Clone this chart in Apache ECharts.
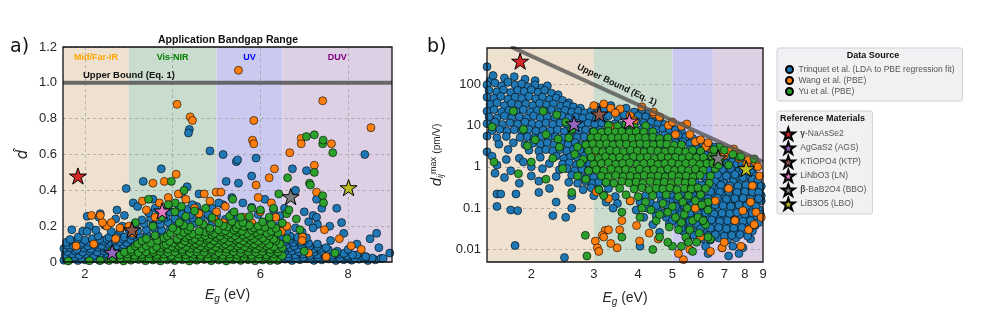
<!DOCTYPE html>
<html><head><meta charset="utf-8">
<script src="https://cdn.jsdelivr.net/npm/echarts@6/dist/echarts.min.js"></script>
<style>html,body{margin:0;padding:0;background:#fff}#c{width:987px;height:320px}</style>
</head><body><div id="c"></div>
<script>
// ---------------- DATA ----------------
const sourceNames = ['Trinquet et al. (LDA to PBE regression fit)', 'Wang et al. (PBE)', 'Yu et al. (PBE)'];
const refNames = ['γ-NaAsSe2', 'AgGaS2 (AGS)', 'KTiOPO4 (KTP)', 'LiNbO3 (LN)', 'β-BaB2O4 (BBO)', 'LiB3O5 (LBO)'];
const regionNames = ['Mid/Far-IR', 'Vis-NIR', 'UV', 'DUV'];
const regionEdges = [1.5, 3, 5, 6.5, 9];
const xTicksA = [2, 4, 6, 8];
const xTicksB = [2, 3, 4, 5, 6, 7, 8, 9];
const yTicksB = [0.01, 0.1, 1, 10, 100];
const boundA = [[1.5, 1], [9, 1]];
const boundB = [[1.75, 800], [9, 1.32]];
// reference materials (Eg, d) for each panel
const refA = [[1.84, 0.48], [2.62, 0.055], [3.07, 0.18], [3.76, 0.285], [6.69, 0.365], [8.01, 0.415]];
const refB = [[1.86, 356], [2.64, 10.9], [3.11, 18.9], [3.78, 12.8], [6.73, 1.65], [8.07, 0.9]];

// panel a: flat [Eg, d, Eg, d, ...]
const blueA = [
1.52,.01,1.68,.015,1.84,.008,2.0,.012,2.16,.018,2.33,.009,2.5,.014,6.4,.01,6.56,.016,6.72,.008,6.9,.013,7.05,.018,7.22,.009,7.4,.012,7.55,.017,7.72,.008,7.9,.013,8.08,.01,8.25,.016,8.45,.008,8.62,.012,
1.6,.025,1.76,.028,1.92,.022,2.08,.027,2.25,.024,2.42,.026,6.48,.025,6.64,.028,6.81,.022,6.98,.026,7.14,.024,7.31,.027,7.48,.023,7.64,.026,7.81,.024,7.98,.027,8.15,.022,8.35,.025,8.55,.022,8.75,.02,
1.55,.04,1.71,.045,1.87,.038,2.03,.043,2.2,.036,2.36,.047,2.52,.04,2.7,.035,6.3,.042,6.46,.037,6.63,.046,6.8,.039,6.97,.044,7.13,.036,7.3,.041,7.47,.047,7.64,.038,7.8,.043,7.98,.035,8.2,.04,8.4,.03,
1.6,.058,1.78,.062,1.95,.055,2.11,.06,2.28,.056,2.44,.062,2.6,.057,2.8,.06,6.38,.06,6.55,.056,6.72,.062,6.88,.057,7.05,.06,7.22,.055,7.39,.061,7.56,.057,7.72,.05,7.9,.048,8.1,.04,
1.52,.075,1.66,.08,1.82,.07,1.98,.078,2.14,.072,2.3,.082,2.47,.074,2.64,.079,2.8,.07,2.96,.077,6.35,.076,6.52,.07,6.68,.08,6.85,.073,7.02,.078,7.2,.071,7.36,.075,7.55,.068,7.75,.06,
1.6,.094,1.74,.09,1.9,.096,2.06,.09,2.22,.094,2.38,.092,2.55,.097,2.72,.09,2.88,.095,3.05,.092,6.28,.094,6.44,.09,6.6,.096,6.77,.09,6.94,.093,7.12,.088,7.3,.085,7.5,.08,
1.58,.11,1.75,.115,1.92,.105,2.08,.112,2.25,.108,2.42,.116,2.6,.106,2.78,.113,2.95,.109,3.12,.117,3.3,.11,6.2,.112,6.4,.106,6.58,.115,6.75,.108,6.92,.11,7.1,.104,7.3,.1,
1.66,.125,1.84,.128,2.0,.122,2.17,.13,2.34,.125,2.5,.128,2.68,.122,2.86,.13,3.04,.126,3.2,.13,6.15,.128,6.32,.125,6.5,.13,6.66,.124,6.84,.126,7.0,.12,
1.85,.14,2.3,.145,2.55,.138,2.72,.146,2.9,.14,3.08,.148,3.25,.142,3.42,.15,3.6,.144,3.78,.152,5.9,.146,6.1,.14,6.3,.148,6.5,.142,6.68,.145,6.85,.138,7.05,.135,
1.7,.18,1.95,.172,2.25,.178,2.6,.17,2.8,.176,3.0,.182,3.2,.174,3.4,.18,3.58,.186,3.75,.178,3.95,.184,4.15,.19,4.35,.182,5.6,.18,5.8,.176,6.0,.172,6.2,.178,6.6,.17,6.95,.168,
2.1,.2,2.45,.205,2.85,.2,3.15,.208,3.35,.214,3.55,.206,3.72,.212,3.9,.22,4.1,.214,4.3,.222,4.5,.215,4.7,.21,4.9,.218,5.1,.212,5.3,.205,5.5,.21,5.75,.202,6.05,.198,6.4,.2,6.8,.19,7.3,.21,
2.05,.255,2.7,.24,3.3,.235,3.5,.245,3.68,.238,3.85,.25,4.05,.242,4.25,.255,4.45,.246,4.65,.24,4.85,.25,5.2,.238,5.45,.245,5.7,.232,6.2,.24,7.1,.225,
2.35,.27,2.9,.26,3.45,.275,3.7,.265,3.95,.28,4.2,.27,4.4,.262,4.6,.275,4.8,.268,5.0,.26,5.35,.27,5.95,.265,6.45,.258,7.2,.26,
3.6,.3,3.9,.31,4.15,.305,4.35,.295,4.55,.31,4.9,.3,5.15,.32,5.8,.305,6.3,.29,7.4,.3,
2.94,.41,3.74,.52,3.33,.45,4.38,.74,4.36,.72,4.85,.62,5.15,.6,5.45,.56,5.48,.57,5.9,.58,5.22,.45,5.5,.44,5.8,.48,6.73,.52,7.05,.51,8.38,.6,7.28,.35,7.74,.3,7.28,.25,8.5,.13,8.95,.05,7.2,.19,7.58,.2,2.32,.25,2.73,.29,2.05,.17,4.33,.42,3.55,.35,4.6,.38,4.2,.38,5.6,.33,6.1,.35,5.35,.36,6.55,.3,7.9,.16,8.2,.1,8.7,.08,6.8,.4,3.1,.33,7.0,.28,7.6,.12,8.0,.07,8.4,.03,8.8,.02,5.05,.33,4.45,.32,3.2,.31,7.85,.22,8.65,.16
];
const orangeA = [
5.5,1.07,4.1,.88,4.4,.81,4.45,.79,5.85,.79,7.42,.9,8.52,.75,5.82,.68,5.85,.66,6.93,.69,6.93,.66,7.62,.66,6.67,.61,6.32,.52,7.23,.54,5.9,.43,3.55,.44,3.81,.45,4.08,.49,4.13,.38,4.72,.38,4.99,.39,5.1,.39,7.28,.39,
3.31,.34,3.7,.33,3.9,.36,4.3,.35,4.5,.3,4.85,.34,5.2,.31,5.0,.28,4.6,.27,3.4,.29,3.0,.2,2.8,.19,2.5,.2,2.15,.26,2.4,.22,3.6,.25,4.95,.24,5.15,.22,5.6,.25,5.8,.22,6.0,.28,6.2,.47,6.48,.17,6.96,.14,7.8,.13,8.07,.09,8.3,.07,6.95,.12,7.46,.18,6.35,.25,6.6,.2,3.1,.16,2.7,.13,2.2,.1,1.8,.09,2.9,.05,5.3,.19,5.5,.16,6.25,.33,7.5,.03,7.1,.05,6.0,.12,5.95,.36,2.35,.26,2.6,.22
];
const greenA = [
2.55,.008,2.72,.012,2.88,.006,3.05,.01,3.22,.014,3.38,.007,3.55,.011,3.72,.006,3.88,.012,4.05,.008,4.22,.013,4.38,.006,4.55,.01,4.72,.014,4.88,.007,5.05,.011,5.22,.006,5.38,.012,5.55,.009,5.72,.013,5.88,.007,6.05,.011,6.22,.008,6.38,.01,1.62,.006,2.1,.007,2.35,.009,
2.64,.025,2.8,.022,2.97,.027,3.13,.024,3.3,.028,3.46,.022,3.63,.026,3.8,.023,3.96,.028,4.13,.024,4.3,.022,4.46,.027,4.63,.025,4.8,.022,4.96,.028,5.13,.024,5.3,.026,5.46,.023,5.63,.027,5.8,.025,5.96,.022,6.13,.028,6.3,.024,
2.8,.04,2.97,.044,3.14,.037,3.3,.042,3.47,.046,3.64,.039,3.8,.043,3.97,.036,4.14,.045,4.3,.04,4.47,.043,4.64,.037,4.8,.046,4.97,.041,5.14,.038,5.3,.044,5.47,.04,5.64,.046,5.8,.038,5.97,.043,6.14,.039,6.3,.045,6.5,.035,
2.9,.055,3.06,.058,3.22,.052,3.39,.057,3.56,.054,3.72,.059,3.89,.053,4.05,.056,4.22,.058,4.39,.052,4.55,.057,4.72,.055,4.89,.059,5.05,.053,5.22,.056,5.39,.058,5.55,.052,5.72,.057,5.89,.054,6.05,.059,6.22,.053,6.4,.056,
3.05,.07,3.3,.075,3.55,.068,3.72,.077,3.9,.072,4.06,.079,4.22,.07,4.4,.076,4.56,.073,4.73,.078,4.9,.07,5.06,.076,5.23,.072,5.4,.079,5.56,.071,5.73,.077,5.9,.073,6.06,.078,6.22,.07,6.4,.074,2.6,.06,
3.15,.088,3.4,.09,3.63,.085,3.8,.092,3.98,.087,4.14,.091,4.31,.086,4.48,.093,4.64,.088,4.81,.09,4.98,.085,5.14,.092,5.31,.087,5.48,.09,5.64,.086,5.81,.092,5.98,.088,6.14,.09,6.31,.085,6.5,.08,
3.2,.1,3.5,.105,3.85,.098,4.02,.106,4.2,.1,4.37,.108,4.53,.102,4.7,.107,4.86,.099,5.03,.105,5.2,.1,5.36,.108,5.53,.101,5.7,.106,5.86,.1,6.03,.104,6.2,.098,6.45,.1,
3.3,.118,3.65,.12,3.93,.115,4.11,.122,4.28,.117,4.45,.121,4.61,.116,4.78,.123,4.94,.118,5.11,.12,5.28,.115,5.45,.122,5.61,.117,5.78,.121,5.95,.116,6.12,.12,6.35,.118,
3.4,.13,3.8,.135,4.1,.128,4.3,.136,4.5,.13,4.65,.138,4.82,.132,5.0,.137,5.16,.129,5.33,.135,5.5,.13,5.68,.136,5.85,.131,6.05,.134,6.3,.128,
3.6,.148,3.88,.145,4.18,.15,4.38,.146,4.58,.152,4.74,.147,4.9,.15,5.08,.145,5.25,.151,5.42,.147,5.6,.15,5.77,.146,5.95,.15,6.2,.147,
3.95,.16,4.25,.165,4.45,.158,4.75,.166,4.95,.16,5.12,.168,5.3,.161,5.5,.166,5.7,.159,5.9,.164,6.15,.16,6.4,.162,
4.1,.175,4.35,.178,4.6,.172,4.85,.176,5.05,.18,5.2,.174,5.4,.178,5.58,.172,5.8,.177,6.0,.175,6.25,.172,
4.0,.19,4.4,.195,4.85,.188,5.25,.196,5.45,.19,5.62,.198,5.85,.19,6.1,.194,6.35,.188,
4.25,.205,4.7,.21,5.15,.202,5.5,.208,5.75,.205,5.95,.2,6.25,.21,
4.15,.22,4.6,.225,5.05,.218,5.35,.226,5.6,.22,6.05,.224,6.5,.218,
3.75,.25,4.3,.255,4.9,.248,5.3,.256,5.55,.25,5.75,.254,6.2,.25,
4.05,.28,4.5,.285,5.4,.28,6.0,.29,
3.97,.45,4.26,.4,4.06,.33,7.05,.7,7.23,.71,7.42,.66,7.43,.68,7.65,.61,7.23,.5,7.12,.44,7.42,.37,6.6,.27,6.65,.29,6.82,.24,6.42,.38,5.37,.35,4.75,.3,3.55,.2,3.15,.22,6.6,.13,6.9,.18,7.0,.06,7.7,.05,3.9,.32,4.2,.31,5.8,.3,6.3,.3,3.45,.35,6.62,.47,7.14,.43,7.44,.33
];
// panel b: flat [Eg, d, ...]
const blueB = [
1.5,260,1.53,120,1.56,160,1.68,140,1.79,150,1.92,130,2.05,120,
1.5,95,1.58,105,1.65,90,1.72,110,1.8,95,1.88,100,1.96,85,2.05,95,2.14,80,2.22,90,
1.52,70,1.6,65,1.67,72,1.75,62,1.83,70,1.91,66,2.0,72,2.09,63,2.18,70,2.28,60,2.38,55,
1.5,48,1.57,45,1.64,50,1.72,43,1.8,48,1.88,45,1.97,50,2.06,44,2.15,48,2.25,42,2.35,46,2.45,40,2.55,35,
1.53,32,1.6,35,1.68,30,1.76,34,1.84,31,1.93,33,2.02,30,2.11,34,2.21,31,2.31,33,2.42,29,2.52,31,2.63,28,2.75,26,
1.5,22,1.57,24,1.65,21,1.73,23,1.81,22,1.9,24,1.99,21,2.08,23,2.18,22,2.28,24,2.38,21,2.49,23,2.6,21,2.71,22,2.83,20,2.95,22,
1.52,16,1.6,15,1.68,17,1.76,15,1.85,16,1.94,15,2.03,17,2.12,15,2.22,16,2.33,15,2.44,17,2.55,15,2.67,16,2.79,15,2.92,16,3.05,14,3.2,15,
1.5,11,1.58,12,1.66,10.5,1.74,11.5,1.83,10.8,1.92,12,2.01,11,2.1,10.5,2.2,11.5,2.3,10.6,2.41,11.4,2.52,10.8,2.64,11.6,2.76,10.5,2.89,11.3,3.02,10.6,3.16,11.2,3.3,10.4,3.45,11,3.6,10,
1.55,7.5,1.63,8,1.71,7.2,1.79,7.8,1.88,7.3,1.97,7.9,2.06,7.2,2.16,7.7,2.26,7.3,2.37,7.8,2.48,7.1,2.6,7.6,2.72,7.4,2.85,7.8,2.98,7.2,3.12,7.7,3.27,7.3,3.42,7.6,3.58,7.2,3.75,7.5,3.93,7,
1.5,5.5,1.6,5,1.7,5.4,1.86,5.1,1.95,5.3,2.04,5,2.14,5.4,2.24,5.1,2.34,5.3,2.45,5,2.57,5.4,2.69,5.1,2.82,5.3,2.95,5,3.1,5.2,3.5,5,3.9,5.3,4.1,5,4.3,5.2,
1.62,3.5,1.78,3.8,1.92,3.4,2.02,3.7,2.12,3.5,2.22,3.8,2.32,3.4,2.43,3.6,2.54,3.5,2.66,3.8,2.78,3.4,2.9,3.6,4.5,3.6,4.7,3.4,
1.5,2.3,1.72,2.6,1.97,2.5,2.1,2.4,2.2,2.6,2.3,2.4,2.41,2.6,2.52,2.4,2.63,2.6,2.75,2.5,2.88,2.4,5.0,2.5,5.3,2.6,
1.55,1.8,1.85,1.6,2.12,1.7,2.35,1.8,2.47,1.6,2.58,1.75,2.7,1.65,2.82,1.8,2.95,1.6,5.6,1.7,5.9,1.8,
1.6,1.1,1.9,1.3,2.25,1.2,2.45,1.15,2.56,1.25,2.68,1.1,2.8,1.2,2.92,1.15,6.2,1.2,6.5,1.3,6.9,1.1,
1.75,.8,2.15,.9,2.4,.85,2.52,.9,2.65,.8,2.78,.88,2.9,.82,3.02,.86,6.3,.85,6.7,.8,7.1,.9,7.5,.85,
1.68,.55,2.0,.6,2.35,.58,2.6,.62,2.75,.57,2.88,.6,3.0,.55,6.5,.6,6.9,.55,7.3,.62,7.7,.58,8.2,.6,
1.85,.4,2.1,.45,2.55,.42,2.7,.4,2.85,.44,2.98,.4,3.1,.43,3.25,.4,5.8,.42,6.2,.4,6.6,.45,7.0,.4,7.4,.44,7.8,.4,8.3,.42,
2.25,.3,2.8,.28,2.95,.31,3.1,.28,3.3,.3,5.5,.3,5.9,.28,6.3,.31,6.7,.29,7.1,.3,7.5,.28,7.9,.31,8.4,.29,8.8,.3,
1.6,.22,2.6,.2,3.0,.2,3.2,.21,3.45,.19,4.2,.2,4.6,.21,5.0,.19,5.3,.2,5.7,.21,6.1,.19,6.5,.2,6.9,.21,7.3,.19,7.7,.2,8.1,.21,8.6,.19,
2.35,.14,3.25,.14,3.5,.13,3.8,.15,4.05,.14,4.35,.13,4.65,.15,4.95,.14,5.25,.13,5.55,.15,5.85,.14,6.15,.13,6.5,.15,6.85,.14,7.2,.13,7.6,.15,8.0,.14,8.5,.13,8.9,.15,
1.75,.09,3.4,.1,3.95,.09,4.25,.1,4.55,.09,4.85,.1,5.15,.09,5.45,.1,5.75,.09,6.05,.1,6.4,.09,6.75,.1,7.1,.09,7.5,.1,7.9,.09,8.3,.1,8.8,.09,
2.5,.06,4.15,.06,4.5,.065,4.8,.06,5.1,.065,5.4,.06,5.7,.065,6.0,.06,6.35,.065,6.7,.06,7.05,.065,7.4,.06,7.8,.065,8.2,.06,8.6,.065,
4.4,.04,4.9,.042,5.2,.038,5.55,.042,5.9,.04,6.25,.038,6.6,.042,6.95,.04,7.3,.038,7.7,.042,8.1,.04,8.55,.038,
4.6,.026,5.35,.028,5.8,.026,6.15,.028,6.5,.026,6.85,.028,7.2,.026,7.6,.028,8.0,.026,8.4,.028,
1.8,.0125,5.5,.018,6.05,.018,6.4,.017,6.75,.019,7.15,.017,7.55,.019,8.3,.018,
4.05,.012,6.2,.012,6.9,.011,7.4,.012,7.9,.011,2.48,.0064,6.3,.008,7.2,.007,7.7,.008,
1.6,.11,1.83,.087,2.3,.066,1.64,.22,1.81,.22,2.1,.24,2.6,.1,1.7,1.5,2.0,1.0,1.58,.7,
3.3,3,3.7,2,4.0,1.3,4.4,.9,4.8,.7,5.2,1.1,3.5,.7,3.9,.5,4.6,.4,5.0,.3,5.6,.6,6.0,.9,3.2,1.8,3.6,4,4.2,3,4.8,2,5.5,1.3,3.4,1.2,4.1,.8,4.7,1.4,5.3,.5,6.1,.6,6.4,1.6,6.8,1.7,7.2,1.5,7.6,1.2,8.0,1.0,7.3,2.2,6.0,2.6,5.7,3.2,5.2,3.8,4.8,4.5,8.4,.8,8.7,.5,8.9,.2,7.8,.7,8.5,.3,
3.05,28,3.2,24,3.35,30,3.5,22,3.7,26,3.9,21,4.1,24,4.3,20,
3.3,17,3.5,16,3.65,18,3.85,15.5,4.0,17,4.2,16,4.4,15,4.6,14,
3.75,12,3.95,12.5,4.15,11.5,4.35,12,4.55,11,4.75,10.5,4.95,9.5,
4.1,8,4.3,8.5,4.5,7.8,4.7,8.2,4.9,7.5,5.1,7.8,5.3,7,
4.5,5.6,4.75,5.8,5.0,5.4,5.2,5.8,5.45,5.2,5.7,4.8,5.95,4.3,
5.1,3.8,5.35,4,5.6,3.6,5.85,3.5,6.1,3.6,6.35,3.3,6.6,3.0,
5.6,2.6,5.85,2.7,6.1,2.5,6.35,2.6,6.6,2.4,6.85,2.3,7.1,2.2,7.4,1.9,
6.2,1.9,6.45,1.7,6.7,1.9,6.95,1.7,7.2,1.8,7.45,1.6,7.7,1.5,7.95,1.3,
6.6,1.25,6.85,1.3,7.1,1.2,7.35,1.3,7.6,1.15,7.85,1.2,8.1,1.05,8.4,.95,
6.9,.85,7.3,.9,7.7,.8,7.9,.9,8.1,.78,8.35,.72,8.6,.6,
6.7,.65,7.1,.6,7.5,.65,7.9,.55,8.4,.5,8.7,.45,
5.7,.35,6.05,.36,6.45,.34,6.85,.36,7.25,.35,7.65,.34,8.05,.36,8.5,.35,8.9,.34,
5.6,.25,6.0,.24,6.4,.25,6.8,.245,7.2,.25,7.6,.24,8.0,.25,8.4,.245,8.75,.24,
4.8,.17,5.15,.17,5.5,.175,5.9,.17,6.3,.17,6.7,.175,7.1,.165,7.5,.17,7.9,.175,8.3,.165,8.75,.17,
4.5,.115,4.8,.12,5.1,.11,5.4,.115,5.7,.12,6.0,.115,6.3,.11,6.6,.12,6.95,.115,7.3,.11,7.7,.12,8.1,.115,8.6,.11,
4.7,.075,5.0,.078,5.3,.072,5.6,.076,5.9,.074,6.2,.078,6.55,.072,6.9,.076,7.25,.074,7.6,.078,8.0,.072,8.4,.076,8.85,.07,
5.0,.05,5.3,.052,5.6,.048,6.1,.05,6.45,.052,6.8,.048,7.15,.05,7.5,.052,7.9,.048,8.3,.05,8.75,.045,
5.3,.033,5.6,.034,6.0,.032,6.4,.033,6.75,.034,7.1,.032,7.45,.033,7.85,.034,8.25,.032,
5.75,.022,6.3,.022,6.6,.023,7.0,.021,7.35,.022,7.75,.023,8.15,.021
];
const orangeB = [
4.1,28,3.56,25,3.35,26,4.44,19,4.87,10,4.42,21,5.49,10.8,7.44,2.7,8.57,1.3,6.2,3,6.7,2,3.8,17,
3.23,.029,3.17,.022,3.03,.016,3.07,.011,3.49,.011,3.3,.17,3.09,.9,3.2,.02,3.96,.038,4.04,.016,4.56,.018,5.37,.0057,6.9,.011,7.9,.087,8.7,1.0,8.3,.14,
3.05,.25,3.15,1.4,3.0,2.1,3.25,4.5,3.4,9,3.9,13,5.1,6,5.8,4,6.5,2.5,7.0,1.9,7.7,1.6,8.1,1.2,8.8,.6,8.4,.35,8.6,.08,7.5,.05,6.0,.02,5.2,.008,4.3,.025,3.6,.05,3.8,.15,5.8,.1,6.6,.15,7.2,.3,
3.0,30,3.2,33,4.6,16,5.0,12,5.3,9.5,5.6,6,6.0,4.5,6.3,3.8,6.9,2.6,7.2,2.5,7.7,2.0,8.2,1.5,3.45,20,
3.3,.03,3.35,.014,3.1,.009,3.55,.03,5.6,.01,6.4,.009,7.0,.015,7.8,.012,8.2,.03,8.5,.04,8.9,.06
];
const greenB = [
3.3,10,3.5,9.5,3.7,10.5,3.9,9,4.2,9.8,
3.0,7,3.15,6.8,3.3,7.2,3.45,6.9,3.6,7.1,3.78,6.8,3.95,7.2,4.15,6.9,4.4,7,
2.95,5,3.08,5.2,3.22,4.9,3.37,5.1,3.52,5,3.68,5.2,3.85,4.9,4.02,5.1,4.2,5,4.4,5.2,4.6,4.8,4.85,5,
2.85,3.4,2.98,3.6,3.12,3.5,3.26,3.6,3.4,3.4,3.55,3.6,3.71,3.5,3.88,3.4,4.05,3.6,4.23,3.5,4.42,3.4,4.62,3.6,4.82,3.5,5.05,3.3,5.3,3.4,
2.9,2.4,3.04,2.5,3.18,2.3,3.33,2.5,3.48,2.4,3.64,2.3,3.81,2.5,3.98,2.4,4.16,2.3,4.35,2.5,4.55,2.4,4.76,2.3,4.98,2.5,5.2,2.4,5.45,2.3,5.7,2.5,6.0,2.4,
2.95,1.7,3.1,1.6,3.24,1.75,3.39,1.65,3.55,1.7,3.71,1.6,3.88,1.75,4.06,1.65,4.25,1.7,4.45,1.6,4.65,1.75,4.87,1.65,5.1,1.7,5.33,1.6,5.58,1.75,5.84,1.65,6.12,1.7,6.45,1.8,
3.0,1.15,3.15,1.2,3.3,1.25,3.46,1.15,3.62,1.2,3.79,1.25,3.97,1.15,4.15,1.2,4.35,1.25,4.55,1.15,4.76,1.2,4.98,1.25,5.21,1.15,5.45,1.2,5.7,1.25,5.97,1.15,6.25,1.2,
3.05,.85,3.2,.8,3.36,.88,3.52,.82,3.69,.86,3.86,.8,4.04,.88,4.23,.82,4.43,.86,4.63,.8,4.85,.88,5.07,.82,5.31,.86,5.55,.8,5.8,.88,6.1,.82,
3.15,.6,3.3,.57,3.46,.62,3.63,.58,3.8,.6,3.98,.57,4.16,.62,4.35,.58,4.56,.6,4.77,.57,4.99,.62,5.22,.58,5.46,.6,5.72,.57,5.98,.62,
3.25,.42,3.42,.4,3.6,.44,3.77,.41,3.95,.43,4.13,.4,4.33,.44,4.53,.41,4.74,.43,4.96,.4,5.19,.44,5.43,.41,5.68,.43,
3.1,.28,3.55,.3,3.9,.29,4.1,.31,4.3,.28,4.5,.3,4.7,.29,4.92,.31,5.15,.28,5.4,.3,5.65,.29,5.9,.31,
3.2,.2,3.7,.21,4.0,.19,4.4,.2,4.8,.21,5.2,.19,5.55,.2,6.0,.21,
4.2,.14,4.7,.13,5.35,.14,5.8,.15,6.3,.14,
3.6,.08,4.05,.06,4.5,.05,4.9,.035,5.3,.045,5.6,.03,5.95,.025,6.2,.04,6.4,.018,5.0,.012,4.6,.02,3.6,.02,2.84,.022,2.87,.007,6.3,.02,5.7,.009,4.4,.01,
1.55,9.2,1.78,22,1.57,1.3,1.84,.68,2.0,1.3,2.6,.24,2.36,18,2.16,22,2.38,4.7,1.95,3.2,
8.5,1.55,7.7,1.75,6.8,3,6.6,2.2,7.0,2.5,7.4,2.0,7.8,1.8,6.8,1.4,7.2,1.1,2.7,3,2.6,8,2.5,12,2.8,1.5,2.7,.6,
6.4,.6,6.6,.9,6.5,1.2,6.7,1.6,6.35,.4,6.55,2.6,6.2,.3,6.75,1.1,
2.2,6,2.4,3,2.55,5,2.65,2,2.3,1.6,2.45,.9,2.75,1.2,2.85,.5,2.9,.8,2.2,.5,2.05,4.5,1.9,8,
4.1,.1,4.35,.09,4.6,.07,4.85,.08,5.1,.06,5.4,.07,5.7,.05,5.9,.06,6.1,.05,5.5,.1,5.0,.11,6.05,.12,6.3,.09,5.2,.03,5.45,.02,5.55,.015,5.3,.012,4.85,.015,5.85,.015
];

// ---------------- STYLE ----------------
const FONT = 'Liberation Sans, Arial, sans-serif';
const srcColors = ['#1f77b4', '#ff7f0e', '#2ca02c'];
const refColors = ['#d62728', '#9467bd', '#8c564b', '#e377c2', '#7f7f7f', '#bcbd22'];
const regionFill = ['#eee1cf', '#c9dccd', '#cacaf0', '#ddd0e4'];
const regionLabelColor = ['#ffa500', '#008000', '#0000ff', '#800080'];
const STAR = 'path://M0,-10L2.245,-3.09L9.511,-3.09L3.633,1.18L5.878,8.09L0,3.82L-5.878,8.09L-3.633,1.18L-9.511,-3.09L-2.245,-3.09Z';
const GA = {left: 63, top: 47, width: 329, height: 215};
const GB = {left: 487, top: 48, width: 276, height: 214};

function pairs(a) { const r = []; for (let i = 0; i < a.length; i += 2) r.push([a[i], a[i + 1]]); return r; }

function regionArea(withLabels) {
  return regionNames.map((n, i) => [
    {name: withLabels ? n : '', xAxis: regionEdges[i], itemStyle: {color: regionFill[i]},
     label: {show: withLabels, position: 'insideTop', distance: 6, color: regionLabelColor[i], fontWeight: 'bold', fontSize: 9, fontFamily: FONT}},
    {xAxis: regionEdges[i + 1]}
  ]);
}

const series = [];
const dataA = [blueA, orangeA, greenA];
const dataB = [blueB, orangeB, greenB];
const ptStyle = i => ({color: srcColors[i], borderColor: '#000', borderWidth: 0.6, opacity: 1});
const starStyle = i => ({color: refColors[i], borderColor: '#000', borderWidth: 1, opacity: 1});
// panel a
series.push({type: 'line', xAxisIndex: 0, yAxisIndex: 0, data: [], silent: true,
  markArea: {silent: true, z: 1, data: regionArea(true)}});
dataA.forEach((d, i) => series.push({type: 'scatter', name: sourceNames[i], xAxisIndex: 0, yAxisIndex: 0, data: pairs(d),
  symbolSize: 8, z: 2, itemStyle: ptStyle(i)}));
series.push({type: 'line', xAxisIndex: 0, yAxisIndex: 0, data: boundA, symbol: 'none', z: 3, silent: true,
  lineStyle: {color: '#555', width: 4, opacity: 0.85}});
refA.forEach((p, i) => series.push({type: 'scatter', name: refNames[i], xAxisIndex: 0, yAxisIndex: 0, data: [p],
  symbol: STAR, symbolKeepAspect: true, symbolSize: 17, z: 4, itemStyle: starStyle(i)}));
// panel b
series.push({type: 'line', xAxisIndex: 1, yAxisIndex: 1, data: [], silent: true,
  markArea: {silent: true, z: 1, data: regionArea(false)}});
dataB.forEach((d, i) => series.push({type: 'scatter', name: sourceNames[i], xAxisIndex: 1, yAxisIndex: 1, data: pairs(d),
  symbolSize: 8, z: 2, itemStyle: ptStyle(i)}));
series.push({type: 'line', xAxisIndex: 1, yAxisIndex: 1, data: boundB, symbol: 'none', z: 3, silent: true,
  lineStyle: {color: '#555', width: 4, opacity: 0.8}});
refB.forEach((p, i) => series.push({type: 'scatter', name: refNames[i], xAxisIndex: 1, yAxisIndex: 1, data: [p],
  symbol: STAR, symbolKeepAspect: true, symbolSize: 17, z: 4, itemStyle: starStyle(i)}));

const tickLabel = {fontSize: 13, color: '#262626', fontFamily: FONT};
const splitDash = {show: true, lineStyle: {color: '#9a9a9a', type: [3, 3], width: 0.7}};
const egName = '{i|E}{s|g} (eV)';
const egRich = {i: {fontStyle: 'italic', fontSize: 14, fontFamily: FONT, color: '#262626'},
                s: {fontStyle: 'italic', fontSize: 10, fontFamily: FONT, color: '#262626', verticalAlign: 'bottom', padding: [8, 0, 0, 0]}};

const option = {
  animation: false,
  textStyle: {fontFamily: FONT},
  grid: [Object.assign({}, GA), Object.assign({}, GB)],
  xAxis: [
    {type: 'value', gridIndex: 0, min: 1.5, max: 9, z: 1.5,
     axisLine: {show: false}, axisTick: {show: false, customValues: xTicksA},
     axisLabel: Object.assign({customValues: xTicksA, margin: 6}, tickLabel),
     splitLine: splitDash,
     name: egName, nameLocation: 'middle', nameGap: 24,
     nameTextStyle: {fontSize: 14, color: '#262626', fontFamily: FONT, rich: egRich}},
    {type: 'log', gridIndex: 1, min: 1.5, max: 9, z: 1.5,
     axisLine: {show: false}, axisTick: {show: false, customValues: xTicksB},
     axisLabel: Object.assign({customValues: xTicksB, margin: 6, formatter: v => String(Math.round(v))}, tickLabel),
     splitLine: {show: false}, minorSplitLine: {show: false},
     name: egName, nameLocation: 'middle', nameGap: 27,
     nameTextStyle: {fontSize: 14, color: '#262626', fontFamily: FONT, rich: egRich}}
  ],
  yAxis: [
    {type: 'value', gridIndex: 0, min: 0, max: 1.2, interval: 0.2, z: 1.5,
     axisLine: {show: false}, axisTick: {show: false},
     axisLabel: Object.assign({margin: 6, formatter: v => v === 0 ? '0' : v.toFixed(1)}, tickLabel),
     splitLine: splitDash,
     name: '{i|d\u0302}', nameLocation: 'middle', nameGap: 32, nameRotate: 90,
     nameTextStyle: {rich: {i: {fontStyle: 'italic', fontSize: 15, fontFamily: 'DejaVu Sans', color: '#262626'}}}},
    {type: 'log', gridIndex: 1, min: 0.005, max: 740, z: 1.5,
     axisLine: {show: false}, axisTick: {show: false, customValues: yTicksB},
     axisLabel: Object.assign({customValues: yTicksB, margin: 6, formatter: v => String(+v.toPrecision(2))}, tickLabel),
     splitLine: {show: true, lineStyle: {color: '#9a9a9a', type: [3, 3], width: 0.7}},
     name: '{i|d}{sb|ij}{sp|max} {p|(pm/V)}', nameLocation: 'middle', nameGap: 42, nameRotate: 90,
     nameTextStyle: {rich: {
       i: {fontStyle: 'italic', fontSize: 15, fontFamily: FONT, color: '#262626'},
       sb: {fontStyle: 'italic', fontSize: 9, fontFamily: FONT, color: '#262626', verticalAlign: 'bottom', padding: [7, 0, 0, 0]},
       sp: {fontSize: 9, fontFamily: FONT, color: '#262626', verticalAlign: 'top', padding: [0, 0, 7, 0]},
       p: {fontSize: 10, fontFamily: FONT, color: '#262626'}}}}
  ],
  legend: [
    {data: sourceNames, left: 777, top: 48, orient: 'vertical', itemGap: 2, itemWidth: 8, itemHeight: 7,
     padding: [17, 8, 5, 8], backgroundColor: '#f1f1f4', borderColor: '#d0d0d6', borderWidth: 1, borderRadius: 2,
     selectedMode: false, textStyle: {fontSize: 8.5, color: '#555', fontFamily: FONT}},
    {data: refNames, left: 777, top: 111, orient: 'vertical', itemGap: 0, itemWidth: 14, itemHeight: 12,
     padding: [16, 6, 3, 4], backgroundColor: '#f1f1f4', borderColor: '#d0d0d6', borderWidth: 1, borderRadius: 2,
     selectedMode: false,
     formatter: n => n.replace(/^([γβ])/, '{b|$1}'),
     textStyle: {fontSize: 8.5, color: '#555', fontFamily: FONT, rich: {b: {fontWeight: 'bold', fontSize: 8.5, color: '#444', fontFamily: FONT}}}}
  ],
  series: series,
  graphic: [
    {type: 'rect', shape: {x: GA.left, y: GA.top, width: GA.width, height: GA.height}, style: {fill: 'none', stroke: '#111', lineWidth: 1.3}, z: 100, silent: true},
    {type: 'rect', shape: {x: GB.left, y: GB.top, width: GB.width, height: GB.height}, style: {fill: 'none', stroke: '#111', lineWidth: 1.3}, z: 100, silent: true},
    {type: 'text', x: 10, y: 47, style: {text: 'a)', fontSize: 19, fontFamily: 'DejaVu Sans', fill: '#111', verticalAlign: 'middle'}, z: 100},
    {type: 'text', x: 427, y: 47, style: {text: 'b)', fontSize: 19, fontFamily: 'DejaVu Sans', fill: '#111', verticalAlign: 'middle'}, z: 100},
    {type: 'text', x: 228, y: 40, style: {text: 'Application Bandgap Range', fontSize: 10.5, fontWeight: 'bold', fontFamily: FONT, fill: '#111', align: 'center', verticalAlign: 'middle'}, z: 100},
    {type: 'text', x: 83, y: 75, style: {text: 'Upper Bound (Eq. 1)', fontSize: 9.5, fontWeight: 'bold', fontFamily: FONT, fill: '#111', verticalAlign: 'middle'}, z: 100},
    {type: 'text', x: 617, y: 85, rotation: -0.44, style: {text: 'Upper Bound (Eq. 1)', fontSize: 9, fontWeight: 'bold', fontFamily: FONT, fill: '#111', align: 'center', verticalAlign: 'middle'}, z: 100},
    {type: 'text', x: 873, y: 56, style: {text: 'Data Source', fontSize: 9, fontWeight: 'bold', fontFamily: FONT, fill: '#111', align: 'center', verticalAlign: 'middle'}, z: 100},
    {type: 'text', x: 780, y: 119, style: {text: 'Reference Materials', fontSize: 9, fontWeight: 'bold', fontFamily: FONT, fill: '#111', verticalAlign: 'middle'}, z: 100}
  ]
};
const chart = echarts.init(document.getElementById('c'), null, {renderer: 'canvas'});
chart.setOption(option);
</script></body></html>
